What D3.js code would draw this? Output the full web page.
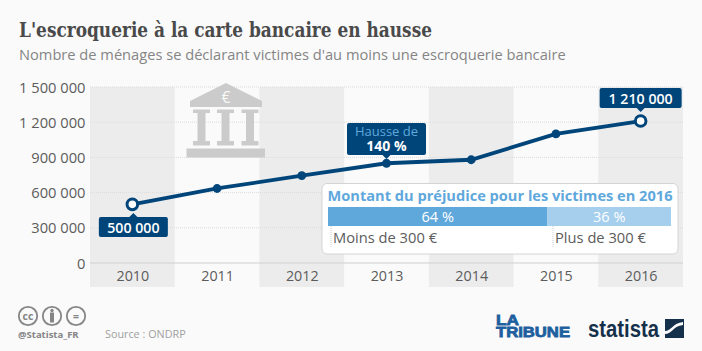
<!DOCTYPE html>
<html lang="fr">
<head>
<meta charset="utf-8">
<title>L'escroquerie à la carte bancaire en hausse</title>
<script src="https://d3js.org/d3.v7.min.js"></script>
<style>
html, body { margin: 0; padding: 0; background: #fafafa; }
svg { display: block; }
text { font-family: "Open Sans", sans-serif; }
</style>
</head>
<body>
<div id="chart"></div>
<script>
// Data
const years = ["2010", "2011", "2012", "2013", "2014", "2015", "2016"];
const households = [500000, 635000, 745000, 850000, 880000, 1100000, 1210000];
const yTicks = [0, 300000, 600000, 900000, 1200000, 1500000];
const shareLabels = ["Moins de 300 €", "Plus de 300 €"];
const shareValues = [64, 36];

const navy = "#00457a", blue = "#5fa8dc", lightBlue = "#a6cfee";
const fmt = v => d3.format(",")(v).replace(/,/g, " ");

const svg = d3.select("#chart").append("svg")
	.attr("width", 702)
	.attr("height", 351);

// Scales
const x = d3.scaleBand().domain(years).range([90, 683]);
const y = d3.scaleLinear().domain([0, 1500000]).range([263, 87]);
const cx = d => x(d) + x.bandwidth() / 2;

// Title
svg.append("text").attr("x", 19).attr("y", 36.500)
	.attr("textLength", 413).attr("lengthAdjust", "spacingAndGlyphs")
	.style("font-family", "'DejaVu Serif', serif").style("font-weight", 700)
	.style("font-size", "20.500px").style("fill", "#4a4a4a")
	.text("L'escroquerie à la carte bancaire en hausse");
svg.append("text").attr("x", 19).attr("y", 60)
	.style("font-size", "14.650px").style("fill", "#858585")
	.text("Nombre de ménages se déclarant victimes d'au moins une escroquerie bancaire");

// Alternate bands
svg.selectAll(".band")
	.data(years.filter((d, i) => i % 2 === 0))
	.enter().append("rect")
	.attr("x", d => x(d)).attr("y", 87)
	.attr("width", x.bandwidth()).attr("height", 200)
	.attr("fill", "#ececec");

// Grid
svg.selectAll(".grid")
	.data(yTicks.slice(1))
	.enter().append("line")
	.attr("x1", 90).attr("x2", 683)
	.attr("y1", d => y(d)).attr("y2", d => y(d))
	.attr("stroke", "#dcdcdc").attr("stroke-dasharray", "1,1");
svg.append("line").attr("x1", 90).attr("x2", 683)
	.attr("y1", y(0)).attr("y2", y(0))
	.attr("stroke", "#cfcfcf").attr("stroke-width", 1);

// Axes
svg.selectAll(".ytick")
	.data(yTicks)
	.enter().append("text")
	.attr("x", 85.500).attr("y", d => y(d) + 5.500)
	.attr("text-anchor", "end")
	.style("font-size", "14.700px").style("fill", "#5c5c5c")
	.text(fmt);
svg.selectAll(".xtick")
	.data(years)
	.enter().append("text")
	.attr("x", d => cx(d) + 0.500).attr("y", 281)
	.attr("text-anchor", "middle")
	.style("font-size", "14.300px").style("fill", "#5c5c5c")
	.text(d => d);

// Bank icon
const bank = svg.append("g").attr("fill", "#cbcbcb");
bank.append("path").attr("d", "M226 83 L262 101 V107 H190 V101 Z");
[201.500, 225.500, 250].forEach(c => {
	bank.append("path").attr("d", `M${c - 8.500} 109.500 H${c + 8.500} V113 H${c + 4} V141 H${c + 8.500} V145.500 H${c - 8.500} V141 H${c - 4} V113 H${c - 8.500} Z`);
});
bank.append("rect").attr("x", 186.500).attr("y", 148.500).attr("width", 78.500).attr("height", 9);
svg.append("text").attr("x", 226).attr("y", 102.500).attr("text-anchor", "middle")
	.style("font-size", "15.500px").style("fill", "#fafafa").text("€");

// Line
const line = d3.line().x((d, i) => cx(years[i])).y(d => y(d));
svg.append("path").datum(households)
	.attr("d", line).attr("fill", "none")
	.attr("stroke", navy).attr("stroke-width", 3.800);
svg.selectAll(".dot")
	.data(households)
	.enter().append("circle")
	.attr("cx", (d, i) => cx(years[i])).attr("cy", d => y(d))
	.attr("r", (d, i) => (i === 0 || i === years.length - 1) ? 5.300 : 4.400)
	.attr("fill", (d, i) => (i === 0 || i === years.length - 1) ? "#fff" : navy)
	.attr("stroke", navy)
	.attr("stroke-width", (d, i) => (i === 0 || i === years.length - 1) ? 3 : 0);

// Callouts
function callout(px, top, w, h, up) {
	svg.append("rect").attr("x", px - w / 2).attr("y", top)
		.attr("width", w).attr("height", h).attr("rx", 2).attr("fill", navy);
	const ay = up ? top : top + h;
	const dir = up ? -1 : 1;
	svg.append("path").attr("d", `M${px - 4} ${ay} L${px} ${ay + dir * 4} L${px + 4} ${ay} Z`).attr("fill", navy);
}
const px0 = cx(years[0]), px3 = cx(years[3]), px6 = cx(years[6]);
callout(px0 + 1, 217, 69, 20, true);
svg.append("text").attr("x", px0 + 1).attr("y", 232.500).attr("text-anchor", "middle")
	.style("font-size", "14.200px").style("font-weight", 600).style("fill", "#fff").text(fmt(households[0]));
callout(px6, 88, 82, 20, false);
svg.append("text").attr("x", px6).attr("y", 103.500).attr("text-anchor", "middle")
	.style("font-size", "14.200px").style("font-weight", 600).style("fill", "#fff").text(fmt(households[6]));
callout(px3, 123, 79, 32, false);
const hausse = svg.append("text").attr("text-anchor", "middle");
hausse.append("tspan").attr("x", px3).attr("y", 136)
	.style("font-size", "13px").style("fill", blue).text("Hausse de");
hausse.append("tspan").attr("x", px3).attr("y", 151)
	.style("font-size", "14px").style("font-weight", 700).style("fill", "#fff").text("140 %");

// Panel
svg.append("rect").attr("x", 322).attr("y", 183.500).attr("width", 356).attr("height", 70.500)
	.attr("rx", 5).attr("fill", "#fff").attr("stroke", "#d4d4d4");
svg.append("text").attr("x", 327.500).attr("y", 201)
	.attr("textLength", 345).attr("lengthAdjust", "spacingAndGlyphs")
	.style("font-size", "14.500px").style("font-weight", 700).style("fill", blue)
	.text("Montant du préjudice pour les victimes en 2016");

const share = d3.scaleLinear().domain([0, 100]).range([328, 671]);
const starts = d3.cumsum([0].concat(shareValues)).slice(0, shareValues.length);
const shareColors = [blue, lightBlue];
const labelGap = i => i ? 5.500 : 3;
svg.selectAll(".seg")
	.data(shareValues)
	.enter().append("rect")
	.attr("x", (d, i) => share(starts[i]) + (i ? 0.500 : 0))
	.attr("y", 207)
	.attr("width", (d, i) => share(d) - share(0) - (i ? 0.500 : 0))
	.attr("height", 19)
	.attr("fill", (d, i) => shareColors[i]);
svg.selectAll(".segval")
	.data(shareValues)
	.enter().append("text")
	.attr("x", (d, i) => share(starts[i] + d / 2))
	.attr("y", 222)
	.attr("text-anchor", "middle")
	.style("font-size", "14.500px").style("fill", "#fff")
	.text(d => d + " %");
svg.selectAll(".seglab")
	.data(shareLabels)
	.enter().append("text")
	.attr("x", (d, i) => share(starts[i]) + labelGap(i) + 2)
	.attr("y", 243)
	.style("font-size", "14.700px").style("fill", "#5c5c5c")
	.text(d => d);
svg.selectAll(".segtick")
	.data(shareLabels)
	.enter().append("line")
	.attr("x1", (d, i) => share(starts[i]) + labelGap(i)).attr("x2", (d, i) => share(starts[i]) + labelGap(i))
	.attr("y1", 226).attr("y2", 247)
	.attr("stroke", "#cfcfcf").attr("stroke-dasharray", "1,1");

// Licence icons
const foot = svg.append("g");
[[28, "cc"], [52, ""], [76, "="]].forEach(([c, t]) => {
	foot.append("circle").attr("cx", c).attr("cy", 316).attr("r", 9.200)
		.attr("fill", "none").attr("stroke", "#858585").attr("stroke-width", 1.800);
	if (t) foot.append("text").attr("x", c).attr("y", 319.500).attr("text-anchor", "middle")
		.style("font-size", "10.500px").style("font-weight", 700).style("fill", "#858585").text(t);
});
foot.append("circle").attr("cx", 52).attr("cy", 310.500).attr("r", 1.700).attr("fill", "#858585");
foot.append("rect").attr("x", 50).attr("y", 312.500).attr("width", 4).attr("height", 10).attr("fill", "#858585");

svg.append("text").attr("x", 18).attr("y", 338)
	.style("font-size", "9.500px").style("font-weight", 700).style("fill", "#858585").text("@Statista_FR");
svg.append("text").attr("x", 105).attr("y", 338)
	.style("font-size", "10.800px").style("fill", "#a0a0a0").text("Source : ONDRP");

// Logos
const tribune = svg.append("text")
	.style("font-family", "'Liberation Sans', sans-serif").style("font-size", "15px").style("font-weight", 700)
	.style("fill", "#1d5f9e").style("stroke", "#1d5f9e").style("stroke-width", 0.800);
tribune.append("tspan").attr("x", 496).attr("y", 325)
	.attr("textLength", 23).attr("lengthAdjust", "spacingAndGlyphs").text("LA");
tribune.append("tspan").attr("x", 496).attr("y", 337)
	.attr("textLength", 74).attr("lengthAdjust", "spacingAndGlyphs").text("TRIBUNE");
svg.append("text").attr("x", 588).attr("y", 337)
	.attr("textLength", 71).attr("lengthAdjust", "spacingAndGlyphs")
	.style("font-family", "'Liberation Sans', sans-serif").style("font-size", "23px").style("font-weight", 700)
	.style("fill", "#14304a").text("statista");
svg.append("rect").attr("x", 665).attr("y", 319).attr("width", 19).attr("height", 19).attr("fill", "#14304a");
svg.append("path").attr("d", "M665 334 C672 334 673 326 683 325 L683 322 C673 323 671 331 665 331 Z").attr("fill", "#fafafa");
</script>
</body>
</html>
